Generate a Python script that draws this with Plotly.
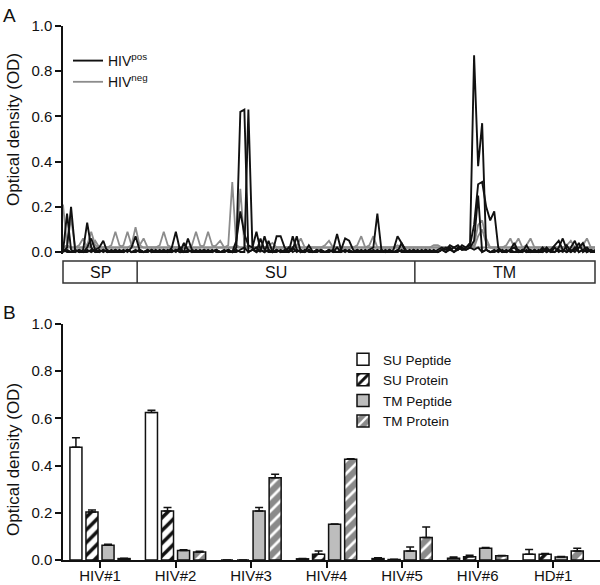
import plotly.graph_objects as go

# ---------------- Panel A data (peptide scan) ----------------
peptide_index = list(range(133))

hiv_pos_1 = [0.0,0.02,0.20,0.01,0.0,0.01,0.13,0.02,0.0,0.01,
             0.0,0.01,0.0,0.0,0.01,0.0,0.01,0.0,0.01,0.0,
             0.0,0.01,0.0,0.01,0.0,0.0,0.01,0.0,0.01,0.0,
             0.04,0.01,0.0,0.01,0.0,0.0,0.01,0.0,0.01,0.0,
             0.0,0.01,0.0,0.02,0.62,0.63,0.0,0.01,0.02,0.0,
             0.07,0.01,0.0,0.01,0.0,0.01,0.0,0.02,0.0,0.01,
             0.0,0.01,0.0,0.0,0.01,0.0,0.0,0.01,0.08,0.01,
             0.0,0.01,0.0,0.0,0.01,0.0,0.0,0.01,0.0,0.0,
             0.01,0.0,0.0,0.01,0.0,0.0,0.01,0.0,0.0,0.01,
             0.0,0.0,0.01,0.0,0.01,0.02,0.01,0.02,0.03,0.01,
             0.02,0.04,0.87,0.38,0.57,0.01,0.0,0.01,0.0,0.01,
             0.0,0.01,0.02,0.0,0.01,0.0,0.01,0.0,0.0,0.01,
             0.0,0.01,0.0,0.02,0.06,0.01,0.0,0.02,0.0,0.01,
             0.0,0.01,0.0]
hiv_pos_2 = [0.0,0.17,0.01,0.0,0.01,0.0,0.02,0.06,0.01,0.0,
             0.01,0.0,0.01,0.0,0.0,0.01,0.0,0.02,0.07,0.01,
             0.0,0.01,0.0,0.0,0.01,0.0,0.0,0.01,0.0,0.02,
             0.0,0.01,0.0,0.0,0.01,0.0,0.0,0.01,0.0,0.0,
             0.01,0.0,0.0,0.01,0.0,0.0,0.63,0.02,0.0,0.01,
             0.0,0.05,0.0,0.01,0.0,0.0,0.02,0.0,0.01,0.0,
             0.0,0.03,0.0,0.01,0.0,0.0,0.01,0.0,0.0,0.01,
             0.06,0.05,0.01,0.0,0.0,0.01,0.0,0.0,0.01,0.0,
             0.0,0.01,0.0,0.0,0.04,0.0,0.0,0.01,0.0,0.0,
             0.01,0.0,0.0,0.01,0.02,0.01,0.03,0.02,0.01,0.03,
             0.02,0.03,0.12,0.30,0.31,0.20,0.14,0.18,0.02,0.0,
             0.01,0.0,0.0,0.01,0.0,0.03,0.0,0.01,0.0,0.0,
             0.01,0.0,0.02,0.0,0.01,0.0,0.02,0.05,0.0,0.01,
             0.02,0.0,0.01]
hiv_pos_3 = [0.01,0.0,0.0,0.01,0.0,0.0,0.01,0.0,0.01,0.02,
             0.05,0.0,0.0,0.01,0.0,0.0,0.01,0.0,0.0,0.01,
             0.0,0.0,0.01,0.0,0.0,0.01,0.0,0.02,0.09,0.01,
             0.0,0.0,0.01,0.0,0.0,0.01,0.0,0.0,0.01,0.0,
             0.0,0.01,0.0,0.05,0.18,0.08,0.03,0.02,0.09,0.01,
             0.0,0.01,0.0,0.0,0.01,0.0,0.0,0.01,0.07,0.0,
             0.01,0.0,0.0,0.01,0.0,0.0,0.01,0.0,0.02,0.0,
             0.01,0.0,0.0,0.01,0.0,0.0,0.01,0.02,0.17,0.01,
             0.0,0.01,0.0,0.0,0.01,0.0,0.0,0.01,0.0,0.0,
             0.01,0.0,0.0,0.0,0.01,0.0,0.01,0.0,0.02,0.01,
             0.01,0.02,0.05,0.25,0.0,0.01,0.0,0.0,0.01,0.0,
             0.0,0.01,0.04,0.0,0.0,0.01,0.0,0.0,0.01,0.0,
             0.02,0.0,0.0,0.01,0.0,0.03,0.0,0.01,0.04,0.0,
             0.01,0.0,0.0]
hiv_pos_4 = [0.0,0.01,0.0,0.0,0.01,0.0,0.0,0.01,0.0,0.0,
             0.01,0.0,0.0,0.01,0.0,0.0,0.01,0.0,0.0,0.01,
             0.0,0.0,0.01,0.0,0.0,0.01,0.0,0.0,0.01,0.0,
             0.0,0.06,0.01,0.0,0.0,0.01,0.0,0.0,0.01,0.0,
             0.0,0.01,0.0,0.0,0.01,0.02,0.0,0.01,0.0,0.06,
             0.01,0.0,0.0,0.07,0.07,0.02,0.0,0.07,0.01,0.0,
             0.0,0.01,0.0,0.0,0.01,0.0,0.0,0.01,0.0,0.0,
             0.01,0.0,0.0,0.01,0.0,0.0,0.01,0.0,0.0,0.01,
             0.0,0.0,0.01,0.07,0.04,0.01,0.0,0.0,0.01,0.0,
             0.0,0.01,0.0,0.0,0.01,0.0,0.02,0.0,0.01,0.02,
             0.01,0.02,0.01,0.02,0.0,0.01,0.0,0.0,0.01,0.0,
             0.0,0.01,0.0,0.0,0.01,0.0,0.0,0.01,0.0,0.02,
             0.0,0.01,0.03,0.05,0.01,0.0,0.01,0.0,0.02,0.04,
             0.0,0.01,0.0]
hiv_neg_1 = [0.21,0.03,0.02,0.02,0.02,0.02,0.03,0.09,0.03,0.02,
             0.02,0.02,0.03,0.09,0.03,0.02,0.02,0.02,0.02,0.03,
             0.06,0.02,0.02,0.02,0.02,0.02,0.02,0.02,0.02,0.02,
             0.02,0.02,0.03,0.09,0.03,0.02,0.02,0.02,0.02,0.02,
             0.02,0.03,0.31,0.03,0.02,0.02,0.02,0.02,0.02,0.02,
             0.02,0.02,0.02,0.02,0.02,0.02,0.02,0.02,0.03,0.06,
             0.02,0.02,0.02,0.02,0.02,0.02,0.02,0.02,0.02,0.02,
             0.02,0.02,0.02,0.02,0.02,0.02,0.03,0.07,0.02,0.02,
             0.02,0.02,0.02,0.02,0.02,0.02,0.02,0.02,0.02,0.02,
             0.02,0.02,0.02,0.02,0.02,0.02,0.02,0.02,0.02,0.02,
             0.02,0.02,0.03,0.12,0.14,0.06,0.02,0.02,0.02,0.02,
             0.02,0.02,0.03,0.06,0.02,0.02,0.02,0.02,0.02,0.02,
             0.02,0.02,0.02,0.02,0.02,0.02,0.02,0.02,0.02,0.03,
             0.06,0.02,0.02]
hiv_neg_2 = [0.02,0.03,0.15,0.02,0.02,0.02,0.02,0.03,0.05,0.02,
             0.02,0.02,0.02,0.02,0.02,0.03,0.09,0.03,0.02,0.02,
             0.02,0.02,0.02,0.02,0.03,0.09,0.03,0.02,0.02,0.02,
             0.02,0.02,0.02,0.02,0.02,0.02,0.02,0.02,0.03,0.05,
             0.02,0.02,0.02,0.03,0.28,0.03,0.02,0.02,0.02,0.02,
             0.02,0.02,0.02,0.02,0.02,0.02,0.02,0.02,0.02,0.02,
             0.02,0.02,0.02,0.02,0.02,0.03,0.05,0.02,0.02,0.02,
             0.02,0.02,0.02,0.02,0.02,0.02,0.02,0.02,0.02,0.02,
             0.02,0.02,0.02,0.03,0.02,0.02,0.02,0.02,0.02,0.02,
             0.02,0.02,0.02,0.02,0.02,0.02,0.02,0.02,0.02,0.02,
             0.02,0.02,0.02,0.07,0.10,0.04,0.02,0.02,0.02,0.02,
             0.02,0.02,0.02,0.02,0.02,0.03,0.06,0.02,0.02,0.02,
             0.02,0.02,0.02,0.02,0.02,0.02,0.02,0.02,0.02,0.02,
             0.02,0.02,0.02]
hiv_neg_3 = [0.02,0.02,0.02,0.02,0.03,0.06,0.02,0.02,0.02,0.02,
             0.02,0.02,0.02,0.02,0.02,0.02,0.02,0.03,0.11,0.03,
             0.02,0.02,0.02,0.02,0.02,0.02,0.02,0.02,0.02,0.02,
             0.02,0.02,0.02,0.02,0.02,0.03,0.09,0.03,0.02,0.02,
             0.02,0.02,0.02,0.02,0.02,0.02,0.02,0.02,0.02,0.02,
             0.02,0.03,0.04,0.02,0.02,0.02,0.02,0.02,0.02,0.02,
             0.02,0.02,0.02,0.02,0.02,0.02,0.02,0.02,0.02,0.02,
             0.02,0.02,0.02,0.03,0.07,0.02,0.02,0.02,0.02,0.02,
             0.02,0.02,0.02,0.02,0.02,0.02,0.02,0.02,0.02,0.02,
             0.02,0.02,0.03,0.03,0.02,0.02,0.02,0.02,0.02,0.02,
             0.02,0.02,0.02,0.02,0.02,0.02,0.02,0.02,0.02,0.02,
             0.03,0.06,0.02,0.02,0.02,0.02,0.02,0.02,0.02,0.02,
             0.02,0.02,0.02,0.02,0.02,0.03,0.05,0.02,0.02,0.02,
             0.02,0.02,0.02]

domain_names = ["SP", "SU", "TM"]
domain_bounds = [0, 18.4, 87.3, 132]

# ---------------- Panel B data (bars) ----------------
donors = ["HIV#1", "HIV#2", "HIV#3", "HIV#4", "HIV#5", "HIV#6", "HD#1"]
su_peptide = [0.478, 0.625, 0.0, 0.005, 0.006, 0.007, 0.024]
su_peptide_err = [0.040, 0.010, 0.0, 0.001, 0.004, 0.006, 0.021]
su_protein = [0.203, 0.208, 0.0, 0.024, 0.002, 0.014, 0.024]
su_protein_err = [0.009, 0.014, 0.0, 0.014, 0.001, 0.006, 0.004]
tm_peptide = [0.063, 0.040, 0.208, 0.151, 0.038, 0.050, 0.013]
tm_peptide_err = [0.004, 0.003, 0.014, 0.002, 0.017, 0.003, 0.002]
tm_protein = [0.006, 0.034, 0.349, 0.427, 0.095, 0.018, 0.038]
tm_protein_err = [0.001, 0.003, 0.014, 0.002, 0.045, 0.001, 0.012]

# ---------------- layout helpers ----------------
W, H = 600, 585
ML, MR, MT, MB = 63, 0, 26, 25
PW, PH = W - ML - MR, H - MT - MB


def fx(px):
    return (px - ML) / PW


def fy(py):
    return (H - MB - py) / PH


FONT = "Arial, Liberation Sans, sans-serif"
BLACK = "#111111"
GREY = "#8c8c8c"

fig = go.Figure()

pos_series = [hiv_pos_1, hiv_pos_2, hiv_pos_3, hiv_pos_4]
neg_series = [hiv_neg_1, hiv_neg_2, hiv_neg_3]

for k, s in enumerate(neg_series):
    fig.add_trace(go.Scatter(x=peptide_index, y=s, mode="lines",
                             line=dict(color=GREY, width=1.8),
                             name="HIV<sup>neg</sup>", legendgroup="neg",
                             showlegend=(k == 0), legend="legend",
                             legendrank=2, xaxis="x", yaxis="y"))
for k, s in enumerate(pos_series):
    fig.add_trace(go.Scatter(x=peptide_index, y=s, mode="lines",
                             line=dict(color=BLACK, width=1.9),
                             name="HIV<sup>pos</sup>", legendgroup="pos",
                             showlegend=(k == 0), legend="legend",
                             legendrank=1, xaxis="x", yaxis="y"))

bar_line = dict(color=BLACK, width=1.5)
err_common = dict(type="data", symmetric=False, color=BLACK, thickness=1.5, width=4)

bar_specs = [
    ("SU Peptide", su_peptide, su_peptide_err, dict(color="white", line=bar_line)),
    ("SU Protein", su_protein, su_protein_err,
     dict(color="white", line=bar_line,
          pattern=dict(shape="/", fgcolor=BLACK, bgcolor="white", size=9, solidity=0.4))),
    ("TM Peptide", tm_peptide, tm_peptide_err, dict(color="#bdbdbd", line=bar_line)),
    ("TM Protein", tm_protein, tm_protein_err,
     dict(color="#8a8a8a", line=bar_line,
          pattern=dict(shape="/", fgcolor="white", bgcolor="#8a8a8a", size=9, solidity=0.3))),
]
for name, vals, errs, marker in bar_specs:
    fig.add_trace(go.Bar(x=donors, y=vals, name=name, marker=marker,
                         error_y=dict(array=errs, arrayminus=[0] * len(errs), **err_common),
                         legend="legend2", xaxis="x2", yaxis="y2"))

top_dom = [fy(254.3), 1.0]
bot_dom = [0.0, fy(324)]
x_top_end = fx(595)

axis_common = dict(showline=True, linecolor=BLACK, linewidth=1.5, ticks="outside",
                   ticklen=6, tickwidth=1.5, tickcolor=BLACK, showgrid=False,
                   zeroline=False, automargin=False,
                   tickfont=dict(family=FONT, size=15, color=BLACK))

fig.update_layout(
    template="none",
    width=W, height=H, margin=dict(l=ML, r=MR, t=MT, b=MB, autoexpand=False),
    paper_bgcolor="white", plot_bgcolor="white",
    font=dict(family=FONT, color=BLACK),
    barmode="group", bargap=0.15, bargroupgap=0.25,
    xaxis=dict(domain=[0, x_top_end], range=[0, 132], visible=False, anchor="y",
               automargin=False),
    yaxis=dict(domain=top_dom, range=[-0.01, 1.0], tickvals=[0, 0.2, 0.4, 0.6, 0.8, 1.0],
               tickformat=".1f", anchor="x", **axis_common),
    xaxis2=dict(domain=[0, 1], range=[-0.49, 6.62], anchor="y2", ticklabelstandoff=-5,
                **axis_common),
    yaxis2=dict(domain=bot_dom, range=[0, 1.0], tickvals=[0, 0.2, 0.4, 0.6, 0.8, 1.0],
                tickformat=".1f", anchor="x2", **axis_common),
    legend=dict(x=fx(68), y=fy(45), xanchor="left", yanchor="top",
                bgcolor="rgba(0,0,0,0)", font=dict(family=FONT, size=14, color=BLACK),
                itemwidth=30, tracegroupgap=0),
    legend2=dict(x=fx(343), y=fy(344), xanchor="left", yanchor="top",
                 bgcolor="rgba(0,0,0,0)", font=dict(family=FONT, size=13.5, color=BLACK),
                 itemwidth=30, traceorder="normal"),
    showlegend=True,
)

# domain strip below panel A
strip_top, strip_bot = fy(261), fy(283)
shapes = [dict(type="rect", xref="paper", yref="paper", x0=0, x1=x_top_end,
               y0=strip_bot, y1=strip_top, line=dict(color="#333333", width=1.5))]
for b in domain_bounds[1:-1]:
    shapes.append(dict(type="line", xref="x", yref="paper", x0=b, x1=b,
                       y0=strip_bot, y1=strip_top, line=dict(color="#333333", width=1.5)))
fig.update_layout(shapes=shapes)

annotations = []
for name, a, b in zip(domain_names, domain_bounds[:-1], domain_bounds[1:]):
    annotations.append(dict(x=(a + b) / 2, y=(strip_top + strip_bot) / 2, xref="x", yref="paper",
                            xanchor="center", yanchor="middle",
                            text=name, showarrow=False, font=dict(family=FONT, size=16, color=BLACK)))
annotations += [
    dict(x=fx(1), y=fy(3), xref="paper", yref="paper", xanchor="left", yanchor="top",
         text="A", showarrow=False, font=dict(family=FONT, size=19, color=BLACK)),
    dict(x=fx(1), y=fy(300), xref="paper", yref="paper", xanchor="left", yanchor="top",
         text="B", showarrow=False, font=dict(family=FONT, size=19, color=BLACK)),
    dict(x=fx(13), y=fy(130), xref="paper", yref="paper", textangle=-90,
         xanchor="center", yanchor="middle",
         text="Optical density (OD)", showarrow=False, font=dict(family=FONT, size=17, color=BLACK)),
    dict(x=fx(13), y=fy(460), xref="paper", yref="paper", textangle=-90,
         xanchor="center", yanchor="middle",
         text="Optical density (OD)", showarrow=False, font=dict(family=FONT, size=17, color=BLACK)),
]
fig.update_layout(annotations=annotations)

fig.write_html("out.html", config={"displayModeBar": False},
               post_script="document.body.style.margin='0px';document.body.style.overflow='hidden';")
